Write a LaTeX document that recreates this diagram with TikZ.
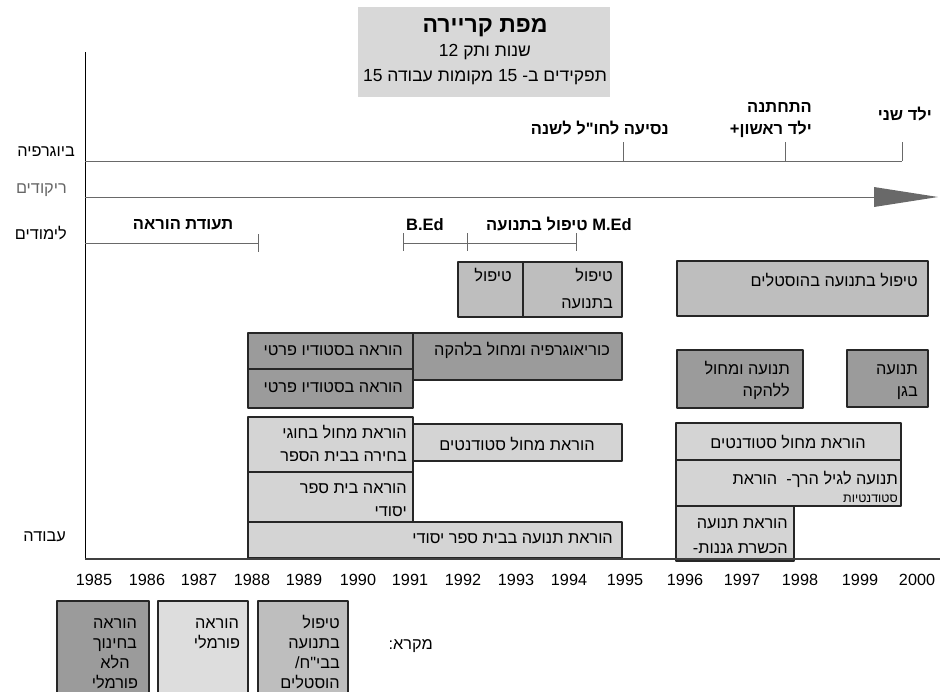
\documentclass[tikz,border=0pt]{standalone}
\usepackage{fontspec}
\setmainfont{Liberation Sans}
\newfontfamily\hebfont[Script=Hebrew]{Liberation Sans}
\TeXXeTstate=1
\newcommand{\heb}[1]{{\hebfont\beginR #1\endR}}
\newcommand{\ltr}[1]{\beginL #1\endL{}}
\definecolor{darkbox}{RGB}{155,155,155}
\definecolor{midbox}{RGB}{190,190,190}
\definecolor{lightbox}{RGB}{212,212,212}
\definecolor{titlebox}{RGB}{216,216,216}
\definecolor{linegray}{RGB}{105,105,105}
\tikzset{
  box/.style={draw=black!85,line width=1.2pt},
  boxtxt/.style={anchor=base east,inner sep=0pt,font=\fontsize{16.3}{18}\selectfont},
  rowlbl/.style={anchor=base east,inner sep=0pt,font=\fontsize{16.3}{18}\selectfont},
  evtlbl/.style={anchor=base east,inner sep=0pt,font=\bfseries\fontsize{16.5}{18}\selectfont},
  yearlbl/.style={anchor=base,inner sep=0pt,font=\fontsize{16.2}{18}\selectfont},
  tline/.style={draw=linegray,line width=0.9pt}
}
\begin{document}
\begin{tikzpicture}[x=1pt,y=-1pt,line join=round]
\useasboundingbox (0,0) rectangle (942,691);
% title
\fill[titlebox] (358,7) rectangle (610,97);
\node (title) at (485,32) [anchor=base,inner sep=0pt,font=\bfseries\fontsize{23}{25}\selectfont] {\heb{מפת קריירה}};
\node (title2) at (485,56) [anchor=base,inner sep=0pt,font=\fontsize{17.5}{20}\selectfont] {\heb{שנות ותק \ltr{12}}};
\node (title3) at (485,81) [anchor=base,inner sep=0pt,font=\fontsize{17.5}{20}\selectfont] {\heb{תפקידים ב- \ltr{15} מקומות עבודה \ltr{15}}};

% axes
\path (85,52) coordinate (O)
  (85,559) coordinate (Ob)
  (940,559) coordinate (Xe)
  (85,161) coordinate (B0) (902,161) coordinate (B1)
  (85,197) coordinate (R0) (874,197) coordinate (R1) (938,197) coordinate (R2)
  (85,243) coordinate (S0) (258,243) coordinate (S1)
  (403,243) coordinate (S2) (576,243) coordinate (S3);
\draw[line width=1pt] (O)--(Ob);
\draw[tline] (B0)--(B1);
\foreach \t in {623,785,902}
  \draw[tline] (\t,142)--(\t,161);
\draw[tline] (R0)--(R1);
\fill[linegray] (874,187)--(R2)--(874,207)--cycle;
\draw[tline] (S0)--(S1);
\draw[tline] (258,234)--(258,252);
\draw[tline] (S2)--(S3);
\foreach \t in {403,467,576}
  \draw[tline] (\t,233)--(\t,251);

% row labels
\node (bio) at (75,156) [rowlbl] {\heb{ביוגרפיה}};
\node (dance) at (67,193) [rowlbl,text=black!60] {\heb{ריקודים}};
\node (study) at (67,239) [rowlbl] {\heb{לימודים}};
\node (work) at (66,541) [rowlbl] {\heb{עבודה}};

% events
\node (trip) at (669,134) [evtlbl] {\heb{נסיעה לחו"ל לשנה}};
\node (wed) at (812,112) [evtlbl] {\heb{התחתנה}};
\node (kid1) at (812,134) [evtlbl] {\heb{ילד ראשון+}};
\node (kid2) at (932,120) [evtlbl] {\heb{ילד שני}};
\node (cert) at (183,229) [evtlbl,anchor=base] {\heb{תעודת הוראה}};
\node (bed) at (425,230) [evtlbl,anchor=base] {B.Ed};
\node (med) at (632,230) [evtlbl] {\heb{\ltr{M.Ed} טיפול בתנועה}};

% boxes
\foreach \xa/\ya/\xb/\yb/\c in {458/262/523/317/midbox,523/262/622/317/midbox,677/261/928/316/midbox,
  248/333/413/369/darkbox,248/369/413/408/darkbox,413/333/622/380/darkbox,
  677/350/803/408/darkbox,847/350/928/407/darkbox,
  248/417/413/472/lightbox,413/424/622/461/lightbox,248/472/413/522/lightbox,248/522/622/558/lightbox,
  676/423/901/460/lightbox,676/460/901/506/lightbox,676/506/794/561/lightbox,
  57/601/149/696/darkbox,158/601/248/696/lightbox!80!white,258/601/348/696/midbox}
  \path[box,fill=\c] (\xa,\ya) rectangle (\xb,\yb);
\draw[line width=2pt,draw=black!75] (Ob)--(Xe);

\node (t1) at (512,281) [boxtxt] {\heb{טיפול}};
\node (t2) at (613,281) [boxtxt] {\heb{טיפול}};
\node (t2b) at (613,308) [boxtxt] {\heb{בתנועה}};
\node (hos) at (918,286) [boxtxt] {\heb{טיפול בתנועה בהוסטלים}};
\node (st1) at (403,355) [boxtxt] {\heb{הוראה בסטודיו פרטי}};
\node (st2) at (403,392) [boxtxt] {\heb{הוראה בסטודיו פרטי}};
\node (chor) at (610,355) [boxtxt] {\heb{כוריאוגרפיה ומחול בלהקה}};
\node (trp) at (790,374) [boxtxt] {\heb{תנועה ומחול}};
\node (trpb) at (790,396) [boxtxt] {\heb{ללהקה}};
\node (gan) at (918,374) [boxtxt] {\heb{תנועה}};
\node (ganb) at (918,396) [boxtxt] {\heb{בגן}};
\node (elec) at (407,438) [boxtxt] {\heb{הוראת מחול בחוגי}};
\node (elecb) at (407,461) [boxtxt] {\heb{בחירה בבית הספר}};
\node (stu) at (517,450) [boxtxt,anchor=base] {\heb{הוראת מחול סטודנטים}};
\node (elem) at (407,493) [boxtxt] {\heb{הוראה בית ספר}};
\node (elemb) at (407,516) [boxtxt] {\heb{יסודי}};
\node (mov) at (613,543) [boxtxt] {\heb{הוראת תנועה בבית ספר יסודי}};
\node (stu2) at (788,448) [boxtxt,anchor=base] {\heb{הוראת מחול סטודנטים}};
\node (early) at (898,484) [boxtxt] {\heb{תנועה לגיל הרך-~ הוראת}};
\node (earlyb) at (898,502) [boxtxt,font=\fontsize{12.5}{14}\selectfont] {\heb{סטודנטיות}};
\node (kg) at (788,528) [boxtxt] {\heb{הוראת תנועה}};
\node (kgb) at (788,553) [boxtxt] {\heb{הכשרת גננות-}};

% years
\foreach \yr/\xx in {1985/94,1986/147,1987/199,1988/252,1989/304,1990/358,1991/410,1992/463,
  1993/516,1994/569,1995/625,1996/685,1997/742,1998/800,1999/860,2000/917}
  \node (y\yr) at (\xx,585) [yearlbl] {\yr};

% legend
\node (key) at (433,649) [rowlbl] {\heb{מקרא:}};
\node (k1) at (115,628) [boxtxt,anchor=base] {\heb{הוראה}};
\node (k1b) at (115,648) [boxtxt,anchor=base] {\heb{בחינוך}};
\node (k1c) at (115,668) [boxtxt,anchor=base] {\heb{הלא}};
\node (k1d) at (115,688) [boxtxt,anchor=base] {\heb{פורמלי}};
\node (k2) at (217,628) [boxtxt,anchor=base] {\heb{הוראה}};
\node (k2b) at (217,648) [boxtxt,anchor=base] {\heb{פורמלי}};
\node (k3) at (340,628) [boxtxt] {\heb{טיפול}};
\node (k3b) at (340,648) [boxtxt] {\heb{בתנועה}};
\node (k3c) at (340,668) [boxtxt] {\heb{בבי"ח/}};
\node (k3d) at (340,688) [boxtxt] {\heb{הוסטלים}};
\end{tikzpicture}
\end{document}
